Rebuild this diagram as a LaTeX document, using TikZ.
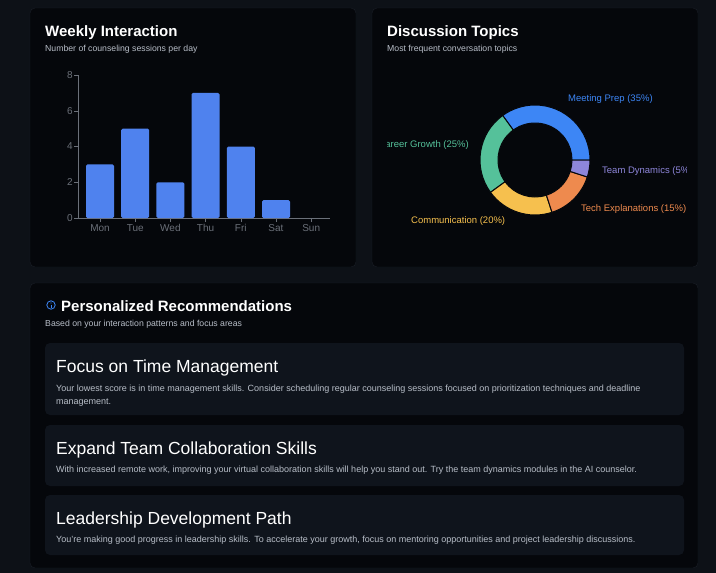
\documentclass[tikz,border=0pt]{standalone}
\usepackage{fontspec}
\usetikzlibrary{calc}
\setmainfont{Liberation Sans}
\definecolor{bg}{HTML}{0D1117}
\definecolor{panel}{HTML}{05070B}
\definecolor{card}{HTML}{0F141C}
\definecolor{pborder}{HTML}{1A1F27}
\definecolor{sub}{HTML}{B8BEC8}
\definecolor{axis}{HTML}{6B7079}
\definecolor{bar}{HTML}{4F82EE}
\definecolor{cblue}{HTML}{3D86F5}
\definecolor{cgreen}{HTML}{55C19A}
\definecolor{cyellow}{HTML}{F6C04E}
\definecolor{corange}{HTML}{EE8A4E}
\definecolor{cpurple}{HTML}{8E86DA}
\begin{document}
\begin{tikzpicture}[x=1pt,y=-1pt,
  panelbox/.style={fill=panel,draw=pborder,rounded corners=5pt},
  cardbox/.style={fill=card,rounded corners=5pt},
  ttl/.style={anchor=base west,text=white,font=\fontsize{15}{18}\selectfont\bfseries,inner sep=0},
  subt/.style={anchor=base west,text=sub,font=\fontsize{8.7}{10}\selectfont,inner sep=0},
  cttl/.style={anchor=base west,text=white,font=\fontsize{17.5}{20}\selectfont,inner sep=0},
  ctxt/.style={anchor=north west,text=sub,font=\fontsize{9}{13}\selectfont,inner sep=0,align=left},
  tick/.style={text=axis,font=\fontsize{10}{12}\selectfont,inner sep=0},
  barr/.style={fill=bar,rounded corners=1.5pt},
  dlab/.style={anchor=base west,font=\fontsize{9.5}{11}\selectfont,inner sep=0}]
\fill[bg] (0,0) rectangle (716,573);
\useasboundingbox (0,0) rectangle (716,573);
% panels
\draw[panelbox] (30,8) rectangle (356,267);
\draw[panelbox] (372,8) rectangle (698,267);
\draw[panelbox] (30,283) rectangle (698,568);
% weekly
\node[ttl] (wt) at (45,36) {Weekly Interaction};
\node[subt] (ws) at (45,51) {Number of counseling sessions per day};
\draw[axis] (78,75) -- (78,218) -- (330,218);
\foreach \v in {0,2,4,6,8}{
  \draw[axis] (74,{218-17.875*\v}) -- (78,{218-17.875*\v});
  \node[tick,anchor=east] (yt\v) at (73,{218-17.875*\v}) {\v};}
\foreach \d/\n [count=\i from 0] in {Mon/3,Tue/5,Wed/2,Thu/7,Fri/4,Sat/1,Sun/0}{
  \pgfmathsetmacro{\cx}{100+35.2*\i}
  \ifnum\n>0 \fill[barr] ({\cx-14},{218-17.875*\n}) rectangle ({\cx+14},218);\fi
  \draw[axis] (\cx,218) -- (\cx,222);
  \node[tick,anchor=base] (xl\i) at (\cx,231) {\d};}
% donut
\node[ttl] (dt) at (387,36) {Discussion Topics};
\node[subt] (ds) at (387,51) {Most frequent conversation topics};
\coordinate (c) at (535,160);
\foreach \a/\b/\col in {0/126/cblue,126/216/cgreen,216/288/cyellow,288/342/corange,342/360/cpurple}{
  \fill[\col,draw=panel,line width=1pt] ($(c)+(\a:55 and -55)$) arc[start angle=-\a,end angle=-\b,radius=55] -- ($(c)+(\b:37 and -37)$) arc[start angle=-\b,end angle=-\a,radius=37] -- cycle;}
\begin{scope}
\clip (387,60) rectangle (686,240);
\node[dlab,text=cblue] (l1) at (568,101) {Meeting Prep (35\%)};
\node[dlab,text=cgreen,anchor=base east] (l2) at (469,147) {Career Growth (25\%)};
\node[dlab,text=cpurple] (l3) at (602,173) {Team Dynamics (5\%)};
\node[dlab,text=corange] (l4) at (581,211) {Tech Explanations (15\%)};
\node[dlab,text=cyellow] (l5) at (411,223) {Communication (20\%)};
\end{scope}
% recommendations
\draw[cblue,line width=0.8pt] (51,305) circle (4.2);
\fill[cblue] (51,303) circle (0.6);
\draw[cblue,line width=0.8pt] (51,304.5) -- (51,307.5);
\node[ttl] (rt) at (61,311) {Personalized Recommendations};
\node[subt] (rs) at (45,326) {Based on your interaction patterns and focus areas};
\fill[cardbox] (45,343) rectangle (684,415);
\fill[cardbox] (45,425) rectangle (684,486);
\fill[cardbox] (45,495) rectangle (684,555);
\node[cttl] (c1) at (56,372) {Focus on Time Management};
\node[ctxt] (t1) at (56,384.5) {Your lowest score is in time management skills. Consider scheduling regular counseling sessions focused on prioritization techniques and deadline\\management.};
\node[cttl] (c2) at (56,454) {Expand Team Collaboration Skills};
\node[ctxt] (t2) at (56,466) {With increased remote work, improving your virtual collaboration skills will help you stand out. Try the team dynamics modules in the AI counselor.};
\node[cttl] (c3) at (56,524) {Leadership Development Path};
\node[ctxt] (t3) at (56,536) {You're making good progress in leadership skills. To accelerate your growth, focus on mentoring opportunities and project leadership discussions.};
\end{tikzpicture}
\end{document}
